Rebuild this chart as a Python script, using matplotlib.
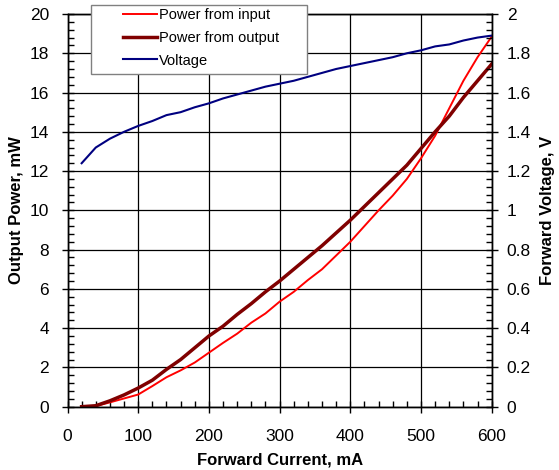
import matplotlib
matplotlib.use("Agg")
import matplotlib.pyplot as plt
from matplotlib.patches import Rectangle
from matplotlib.ticker import MultipleLocator, FuncFormatter

plt.rcParams['font.family'] = ['Liberation Sans', 'DejaVu Sans']

current_mA = [20, 40, 60, 80, 100, 120, 140, 160, 180, 200, 220, 240, 260, 280, 300,
              320, 340, 360, 380, 400, 420, 440, 460, 480, 500, 520, 540, 560, 580, 600]
power_input = [0, 0.03, 0.22, 0.42, 0.62, 1.05, 1.5, 1.85, 2.25, 2.75, 3.25, 3.72, 4.28, 4.75, 5.35,
               5.85, 6.45, 7.0, 7.7, 8.4, 9.2, 10.0, 10.75, 11.6, 12.65, 13.8, 15.2, 16.6, 17.8, 18.85]
power_output = [0, 0.05, 0.3, 0.6, 0.95, 1.35, 1.9, 2.4, 3.0, 3.6, 4.1, 4.7, 5.25, 5.85, 6.4,
                7.0, 7.6, 8.2, 8.85, 9.5, 10.2, 10.9, 11.6, 12.3, 13.15, 14.0, 14.8, 15.75, 16.6, 17.45]
voltage = [1.24, 1.32, 1.365, 1.40, 1.43, 1.455, 1.485, 1.50, 1.525, 1.545, 1.57, 1.59, 1.61, 1.63, 1.645,
           1.66, 1.68, 1.70, 1.72, 1.735, 1.75, 1.765, 1.78, 1.80, 1.815, 1.835, 1.845, 1.865, 1.88, 1.89]

labels = ["Power from input", "Power from output", "Voltage"]

fig = plt.figure(figsize=(5.59, 4.70), dpi=100)
ax = fig.add_axes([67.5/559, 1-406.7/470, (491.7-67.5)/559, (406.7-14)/470])
ax2 = ax.twinx()

l1, = ax.plot(current_mA, power_input, color='#FF0000', lw=1.4)
l2, = ax.plot(current_mA, power_output, color='#800000', lw=2.5)
l3, = ax2.plot(current_mA, voltage, color='#000080', lw=1.5)

ax.set_xlim(0, 600)
ax.set_ylim(0, 20)
ax2.set_ylim(0, 2)
ax.xaxis.set_major_locator(MultipleLocator(100))
ax.xaxis.set_minor_locator(MultipleLocator(20))
ax.yaxis.set_major_locator(MultipleLocator(2))
ax.yaxis.set_minor_locator(MultipleLocator(0.4))
ax2.yaxis.set_major_locator(MultipleLocator(0.2))
ax2.yaxis.set_minor_locator(MultipleLocator(0.04))
ax2.yaxis.set_major_formatter(FuncFormatter(lambda v, p: '%g' % round(v, 2)))

ax.grid(True, which='major', color='black', lw=0.9)
for a in (ax, ax2):
    for s in a.spines.values():
        s.set_color('black')
        s.set_linewidth(1.0)
ax.tick_params(axis='both', which='major', direction='inout', length=8, width=1, labelsize=12.5)
ax.tick_params(axis='x', which='major', pad=11.9)
ax.tick_params(axis='y', which='major', pad=9.4)
ax.tick_params(axis='both', which='minor', direction='in', length=4, width=1)
ax.tick_params(axis='x', which='both', top=False)
ax2.tick_params(axis='y', which='major', direction='inout', length=8, width=1, labelsize=12.5, pad=6.8)
ax2.tick_params(axis='y', which='minor', direction='in', length=4, width=1)

ax.set_xlabel("Forward Current, mA", fontsize=12, fontweight='bold', labelpad=6)
ax.set_ylabel("Output Power, mW", fontsize=12, fontweight='bold')
ax2.set_ylabel("Forward Voltage, V", fontsize=12, fontweight='bold', rotation=90)
ax.yaxis.set_label_coords((24 - 67.5) / 424.2, 0.5)
ax2.yaxis.set_label_coords((540 - 67.5) / 424.2, 0.5)

# legend box
fig.patches.append(Rectangle((91/559, 1-74/470), (307-91)/559, (74-5)/470,
                             transform=fig.transFigure, facecolor='white',
                             edgecolor='#808080', lw=1.0, zorder=4))
leg = fig.legend([l1, l2, l3], labels, loc='upper left',
                 bbox_to_anchor=(123/559, 1-8/470), frameon=False, fontsize=10.5,
                 handlelength=2.3, handletextpad=0.15, borderpad=0, borderaxespad=0,
                 labelspacing=0.6)
leg.set_zorder(5)

fig.savefig("out.png", dpi=100)
